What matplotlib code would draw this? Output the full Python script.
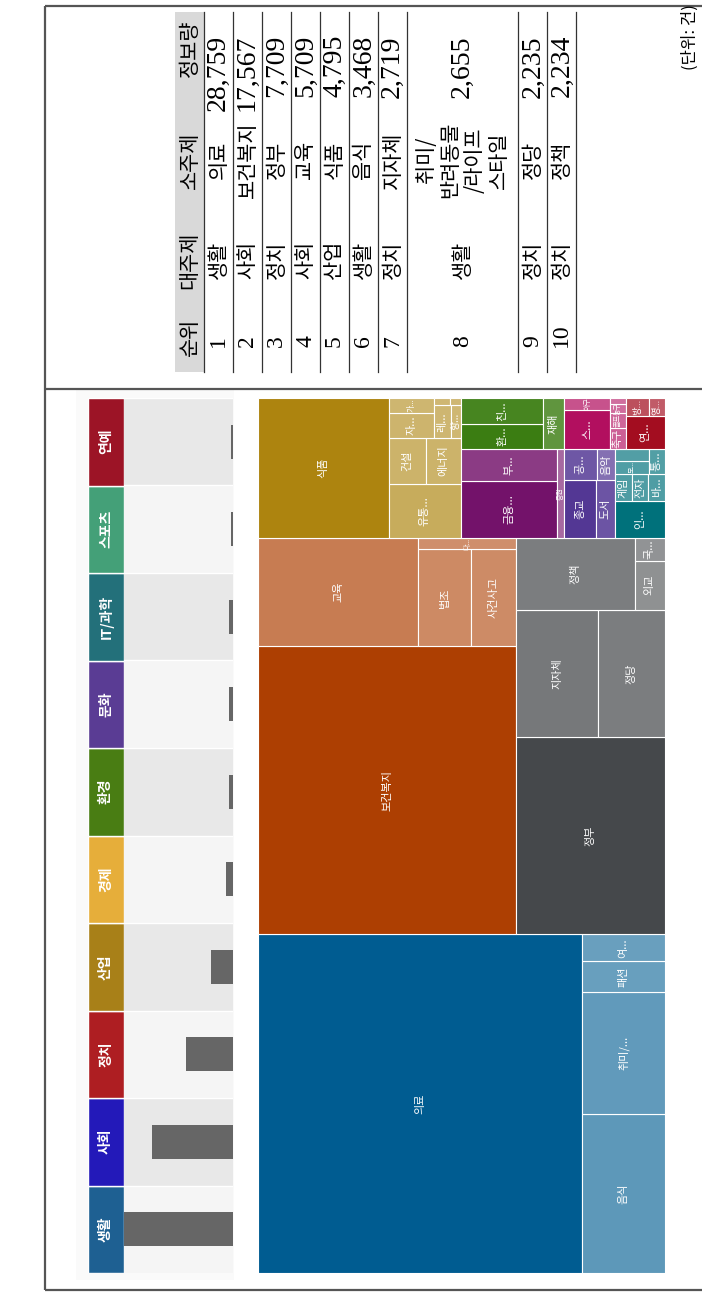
import matplotlib
matplotlib.use("Agg")
import matplotlib.pyplot as plt
from matplotlib.patches import Rectangle
from matplotlib.colors import to_rgb

plt.rcParams["font.family"] = ["Noto Sans CJK KR", "DejaVu Sans"]

W, H = 702, 1292

# categories (left strip + treemap groups)
categories = ["생활", "사회", "정치", "산업", "경제", "환경", "문화", "IT/과학", "스포츠", "연예"]
tab_colors = ["#1e6092", "#2319b9", "#ae1e22", "#a88018", "#e6ae3a",
              "#497d13", "#5a3c94", "#23707a", "#44a078", "#9c1426"]
tree_colors = ["#005c91", "#ad3f02", "#45484b", "#ad840f", "#73126a",
               "#3b7d12", "#533794", "#00717b", "#b20f5f", "#a30d20"]

# sub topics as shown in the treemap (labels as displayed)
life_labels = ["의료", "음식", "취미/...", "패션", "여..."]
life_values = [28759, 3468, 2655, 669, 590]
society_labels = ["보건복지", "교육", "법조", "사건사고", "다..."]
society_values = [19496, 4539, 1349, 1147, 286]
politics_labels = ["정부", "지자체", "정당", "정책", "외교", "국..."]
politics_values = [7709, 2719, 2235, 2234, 391, 178]
industry_labels = ["식품", "유통...", "건설", "에너지", "자...", "가...", "레...", "항...", "", ""]
industry_values = [4795, 1036, 446, 420, 302, 178, 144, 87, 31, 21]
economy_labels = ["금융...", "부...", "증권"]
economy_values = [1443, 798, 165]
env_labels = ["환...", "친...", "재해"]
env_values = [554, 548, 287]
culture_labels = ["종교", "도서", "공...", "음악"]
culture_values = [475, 290, 275, 145]
it_labels = ["인...", "게임", "전자", "바...", "모...", "", "통..."]
it_values = [486, 123, 119, 119, 113, 108, 107]
sports_labels = ["스...", "야구", "축구", "골프", "농구", ""]
sports_values = [459, 144, 87, 60, 37, 26]
ent_labels = ["연...", "방...", "영..."]
ent_values = [341, 110, 73]

sub_labels = [life_labels, society_labels, politics_labels, industry_labels, economy_labels,
              env_labels, culture_labels, it_labels, sports_labels, ent_labels]
sub_values = [life_values, society_values, politics_values, industry_values, economy_values,
              env_values, culture_values, it_values, sports_values, ent_values]

# top 10 table
headers = ["순위", "대주제", "소주제", "정보량"]
rank = [1, 2, 3, 4, 5, 6, 7, 8, 9, 10]
major = ["생활", "사회", "정치", "사회", "산업", "생활", "정치", "생활", "정치", "정치"]
minor = ["의료", "보건복지", "정부", "교육", "식품", "음식", "지자체",
         "취미/\n반려동물\n/라이프\n스타일", "정당", "정책"]
info_count = [28759, 17567, 7709, 5709, 4795, 3468, 2719, 2655, 2235, 2234]

PHI = (1 + 5 ** 0.5) / 2


def squarify(values, x0, y0, x1, y1):
    # squarified layout (golden ratio), values sorted descending
    rects = []
    total = float(sum(values))
    n = len(values)
    i0 = 0
    while i0 < n:
        dx, dy = x1 - x0, y1 - y0
        s = values[i0]
        vmin = vmax = s
        alpha = max(dy / dx, dx / dy) / (total * PHI)
        beta = s * s * alpha
        best = max(vmax / beta, beta / vmin)
        i1 = i0 + 1
        while i1 < n:
            v = values[i1]
            s2 = s + v
            beta = s2 * s2 * alpha
            r = max(max(vmax, v) / beta, beta / min(vmin, v))
            if r > best:
                break
            s, best = s2, r
            vmin, vmax = min(vmin, v), max(vmax, v)
            i1 += 1
        row = values[i0:i1]
        if dx < dy:
            yk = y0 + dy * s / total
            xk = x0
            for v in row:
                w = dx * v / s
                rects.append((xk, y0, xk + w, yk))
                xk += w
            y0 = yk
        else:
            xk = x0 + dx * s / total
            yk = y0
            for v in row:
                h = dy * v / s
                rects.append((x0, yk, xk, yk + h))
                yk += h
            x0 = xk
        total -= s
        i0 = i1
    return rects


def lighten(c, f):
    r, g, b = to_rgb(c)
    return (r + (1 - r) * f, g + (1 - g) * f, b + (1 - b) * f)


def text_len(s):
    # rough label length in em units
    return sum(0.3 if ch == "." else (1.0 if ord(ch) > 255 else 0.6) for ch in s)


def box(x0, y0, x1, y1):
    return [x0 / W, 1 - y1 / H, (x1 - x0) / W, (y1 - y0) / H]


fig = plt.figure(figsize=(W / 100, H / 100), dpi=100)

# page layer: frame, table, note
ax0 = fig.add_axes([0, 0, 1, 1])
ax0.set_xlim(0, W)
ax0.set_ylim(H, 0)
ax0.axis("off")

line_kw = dict(color="#555555", lw=1.6, solid_capstyle="butt")
ax0.plot([45, 45], [6, 1290], **line_kw)
ax0.plot([45, W], [6, 6], **line_kw)
ax0.plot([45, W], [1290, 1290], **line_kw)
ax0.plot([45, W], [389, 389], **line_kw)

ax0.text(690, 4, "(단위: 건)", rotation=90, ha="center", va="top", fontsize=12)

# table
serif = ["Liberation Serif", "Noto Sans CJK KR"]
t_top, t_bot = 12, 372
ax0.add_patch(Rectangle((175, t_top), 29, t_bot - t_top, fc="#d9d9d9", ec="none"))
col_y = [337, 260, 160, 48]
for hname, yy in zip(headers, col_y):
    ax0.text(189.5, yy, hname, rotation=90, ha="center", va="center", fontsize=15)

xs = 204
ax0.plot([xs, xs], [t_top, t_bot], color="#333333", lw=0.9)
for r, ma, mi, cnt in zip(rank, major, minor, info_count):
    nl = mi.count("\n") + 1
    h = 29 + (nl - 1) * 27.4
    xc = xs + h / 2
    ax0.text(xc, 347, str(r), rotation=90, ha="center", va="bottom", fontsize=17, family=serif)
    ax0.text(xc, 260, ma, rotation=90, ha="center", va="center", fontsize=15)
    ax0.text(xc, 160, mi, rotation=90, ha="center", va="center", fontsize=15,
             multialignment="center", linespacing=1.15)
    ax0.text(xc, 35, f"{cnt:,}", rotation=90, ha="center", va="top", fontsize=20, family=serif)
    xs += h
    ax0.plot([xs, xs], [t_top, t_bot], color="#333333", lw=0.9)

n = len(categories)
totals = [sum(v) for v in sub_values]

# light panel behind the category strip
ax0.add_patch(Rectangle((76, 390), 158, 890, fc="#fafafa", ec="none"))

# category tabs
ax_tab = fig.add_axes(box(88, 398, 124, 1273))
ax_tab.barh(range(n), [1] * n, height=1, color=tab_colors, edgecolor="white", linewidth=1)
ax_tab.set_xlim(0, 1)
ax_tab.set_ylim(-0.5, n - 0.5)
ax_tab.axis("off")
for i, c in enumerate(categories):
    ax_tab.text(0.5, i, c, rotation=90, ha="center", va="center", color="white",
                fontsize=10, fontweight="bold")

# bars (totals per category)
ax_bar = fig.add_axes(box(124, 398, 233, 1273))
for i in range(n):
    ax_bar.axhspan(i - 0.5, i + 0.5, color="#f5f5f5" if i % 2 == 0 else "#e8e8e8", lw=0)
    ax_bar.axhline(i + 0.5, color="white", lw=1)
ax_bar.barh(range(n), totals, height=0.39, color="#666666")
ax_bar.set_xlim(max(totals), 0)
ax_bar.set_ylim(-0.5, n - 0.5)
ax_bar.axis("off")

# treemap
TX, TY = 875, 407
ax_tm = fig.add_axes(box(258, 398, 665, 1273))
ax_tm.set_xlim(0, TY)
ax_tm.set_ylim(0, TX)
ax_tm.axis("off")

order = sorted(range(n), key=lambda i: -totals[i])
group_rects = squarify([totals[i] for i in order], 0, 0, TX, TY)
for gi, (gx0, gy0, gx1, gy1) in zip(order, group_rects):
    pairs = sorted(zip(sub_values[gi], sub_labels[gi]), key=lambda p: -p[0])
    vals = [p[0] for p in pairs]
    rects = squarify(vals, gx0, gy0, gx1, gy1)
    vmax = vals[0]
    for k, ((v, lab), (a0, b0, a1, b1)) in enumerate(zip(pairs, rects)):
        f = 0 if k == 0 else max(0.06, 0.42 - 0.45 * v / vmax)
        cell = Rectangle((b0, a0), b1 - b0, a1 - a0,
                         fc=lighten(tree_colors[gi], f), ec="white", lw=0.8)
        ax_tm.add_patch(cell)
        if lab:
            # keep small labels roughly inside their cell (axes units are pixels)
            fs = min(8, 0.7 * (b1 - b0), 0.72 * (a1 - a0) / text_len(lab))
            t = ax_tm.text((b0 + b1) / 2, (a0 + a1) / 2, lab, rotation=90, ha="center",
                           va="center", color="white", fontsize=max(fs, 5))
            t.set_clip_path(cell)

fig.savefig("out.png", dpi=100)
